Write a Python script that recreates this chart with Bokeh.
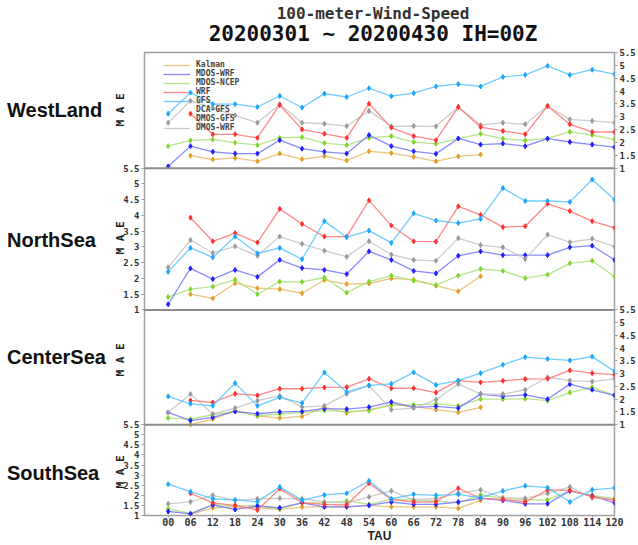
import math
from bokeh.plotting import figure
from bokeh.models import FixedTicker, Range1d, Legend, LegendItem, Span, Div, LinearAxis
from bokeh.layouts import column, row
from bokeh.embed import file_html
from bokeh.resources import INLINE

# ---------------- data ----------------
TAU = list(range(0, 121, 6))
TAU_LABELS = ["00", "06", "12", "18", "24", "30", "36", "42", "48", "54", "60",
              "66", "72", "78", "84", "90", "96", "102", "108", "114", "120"]
Y_TICKS = [1, 1.5, 2, 2.5, 3, 3.5, 4, 4.5, 5, 5.5]
SERIES = ["Kalman", "MDOS-WRF", "MDOS-NCEP", "WRF", "GFS", "DCA-GFS", "DMOS-GFS", "DMOS-WRF"]
REGIONS = ["WestLand", "NorthSea", "CenterSea", "SouthSea"]
TITLE_1 = "100-meter-Wind-Speed"
TITLE_2 = "20200301 ~ 20200430 IH=00Z"
N = None

# WestLand
westland_kalman = [N, 1.49, 1.34, 1.40, 1.27, 1.57, 1.35, 1.47, 1.30, 1.66, 1.59, 1.44, 1.27, 1.46, 1.53,
                   N, N, N, N, N, N]
westland_mdos_wrf = [1.07, 1.86, 1.64, 1.57, 1.57, 2.09, 1.76, 1.64, 1.57, 2.29, 1.86, 1.66, 1.56, 2.16, 1.92,
                     1.96, 1.86, 2.15, 2.02, 1.92, 1.82]
westland_mdos_ncep = [1.86, 2.08, 2.12, 1.99, 1.90, 2.18, 2.21, 1.98, 1.90, 2.18, 2.25, 2.02, 1.95, 2.15, 2.34,
                      2.15, 2.08, 2.16, 2.42, 2.29, 2.12]
westland_wrf = [N, 3.12, 2.32, 2.32, 2.18, 3.46, 2.51, 2.34, 2.18, 3.51, 2.58, 2.25, 2.09, 3.38, 2.60,
                2.45, 2.32, 3.42, 2.71, 2.41, 2.41]
westland_gfs = [3.12, 3.94, 3.49, 3.49, 3.38, 3.81, 3.36, 3.90, 3.77, 4.11, 3.80, 3.92, 4.18, 4.27, 4.18,
                4.55, 4.63, 4.98, 4.63, 4.83, 4.66]
westland_dmos_wrf = [2.77, 3.62, 3.35, 3.05, 2.77, 3.49, 2.77, 2.73, 2.64, 3.23, 2.63, 2.64, 2.63, 3.38, 2.68,
                     2.77, 2.71, 3.42, 2.90, 2.84, 2.77]

# NorthSea
northsea_kalman = [N, 1.50, 1.37, 1.85, 1.69, 1.66, 1.53, 1.95, 1.82, 1.84, 2.00, 1.96, 1.77, 1.59, 2.07,
                   N, N, N, N, N, N]
northsea_mdos_wrf = [1.18, 2.32, 1.98, 2.27, 2.05, 2.59, 2.33, 2.27, 2.14, 2.86, 2.59, 2.24, 2.16, 2.72, 2.86,
                     2.74, 2.74, 2.74, 2.99, 3.04, 2.59]
northsea_mdos_ncep = [1.41, 1.66, 1.74, 1.96, 1.50, 1.90, 1.89, 2.03, 1.55, 1.90, 2.09, 1.93, 1.79, 2.09, 2.30,
                      2.24, 2.01, 2.12, 2.48, 2.56, 2.06]
northsea_wrf = [N, 3.93, 3.18, 3.44, 3.14, 4.21, 3.73, 3.33, 3.33, 4.48, 3.68, 3.18, 3.17, 4.29, 4.02,
                3.63, 3.66, 4.37, 4.14, 3.82, 3.61]
northsea_gfs = [2.21, 2.97, 2.67, 3.33, 2.80, 2.97, 2.61, 3.82, 3.31, 3.52, 3.13, 4.07, 3.84, 3.76, 3.89,
                4.87, 4.46, 4.46, 4.43, 5.14, 4.50]
northsea_dmos_wrf = [2.35, 3.22, 2.81, 3.02, 2.72, 3.33, 3.10, 2.88, 2.69, 3.18, 2.76, 2.59, 2.56, 3.28, 3.06,
                     2.99, 2.62, 3.39, 3.15, 3.26, 3.01]

# CenterSea
centersea_kalman = [N, 1.00, 1.22, 1.55, 1.35, 1.26, 1.33, 1.69, 1.46, 1.59, 1.78, 1.72, 1.59, 1.48, 1.68,
                    N, N, N, N, N, N]
centersea_mdos_wrf = [1.48, 1.16, 1.29, 1.52, 1.43, 1.50, 1.52, 1.63, 1.61, 1.69, 1.89, 1.68, 1.72, 1.65, 2.20,
                      2.11, 2.17, 2.00, 2.59, 2.37, 2.15]
centersea_mdos_ncep = [1.26, 1.22, 1.39, 1.52, 1.35, 1.42, 1.48, 1.55, 1.52, 1.55, 1.78, 1.78, 1.82, 1.74, 2.00,
                       2.00, 2.02, 1.94, 2.26, 2.47, 2.15]
centersea_wrf = [N, 1.95, 1.87, 2.21, 2.15, 2.41, 2.41, 2.46, 2.47, 2.80, 2.43, 2.43, 2.26, 2.73, 2.66,
                 2.72, 2.79, 2.80, 3.13, 3.02, 2.96]
centersea_gfs = [2.11, 1.82, 1.74, 2.63, 1.74, 2.07, 1.85, 3.05, 2.28, 2.54, 2.60, 3.05, 2.56, 2.73, 3.02,
                 3.35, 3.65, 3.58, 3.52, 3.67, 3.09]
centersea_dmos_wrf = [1.48, 2.20, 1.42, 1.65, 1.94, 2.13, 1.69, 1.74, 2.21, 2.53, 1.59, 1.65, 1.98, 2.60, 2.20,
                      2.20, 2.37, 2.86, 2.73, 2.69, 2.80]

# SouthSea
southsea_kalman = [N, 1.05, 1.38, 1.43, 1.38, 1.30, 1.42, 1.43, 1.43, 1.50, 1.43, 1.43, 1.43, 1.35, 1.75,
                   N, N, N, N, N, N]
southsea_mdos_wrf = [1.20, 1.08, 1.52, 1.30, 1.47, 1.38, 1.63, 1.43, 1.43, 1.50, 1.67, 1.55, 1.55, 1.67, 1.85,
                     1.75, 1.58, 1.58, 2.22, 1.97, 1.63]
southsea_mdos_ncep = [1.33, 1.10, 1.55, 1.47, 1.50, 1.33, 1.63, 1.63, 1.72, 1.55, 1.80, 1.77, 1.72, 1.63, 2.02,
                      1.85, 1.77, 1.77, 2.22, 2.00, 1.83]
southsea_wrf = [N, 2.10, 1.63, 1.50, 1.27, 2.33, 1.63, 1.55, 1.52, 2.60, 1.80, 1.67, 1.68, 2.35, 1.85,
                1.80, 1.67, 2.27, 2.25, 1.93, 1.75]
southsea_gfs = [2.55, 2.18, 1.83, 1.77, 1.68, 2.42, 1.75, 2.02, 2.10, 2.72, 1.83, 2.05, 2.00, 2.05, 1.88,
                2.22, 2.47, 2.38, 1.67, 2.27, 2.37]
southsea_dmos_wrf = [1.58, 1.68, 2.00, 1.75, 1.83, 1.85, 1.83, 1.67, 1.63, 1.92, 2.22, 1.77, 1.85, 2.10, 2.27,
                     1.88, 1.85, 2.10, 2.42, 1.88, 1.80]

# ---------------- styles / geometry ----------------
LINE_COLORS = {"Kalman": "#e9bb6a", "MDOS-WRF": "#7676ff", "MDOS-NCEP": "#a9e07a", "WRF": "#ff7373",
               "GFS": "#55c3ff", "DCA-GFS": "#7fe0b3", "DMOS-GFS": "#a24fe3", "DMOS-WRF": "#c4c4c4"}
MARK_COLORS = {"Kalman": "#e0a028", "MDOS-WRF": "#1f1fff", "MDOS-NCEP": "#82d62a", "WRF": "#ff3030",
               "GFS": "#1aa6ff", "DMOS-WRF": "#9a9a9a"}
MONO = "DejaVu Sans Mono"
SANS = "Liberation Sans"

PANEL_DATA = [
    {"Kalman": westland_kalman, "MDOS-WRF": westland_mdos_wrf, "MDOS-NCEP": westland_mdos_ncep,
     "WRF": westland_wrf, "GFS": westland_gfs, "DMOS-WRF": westland_dmos_wrf},
    {"Kalman": northsea_kalman, "MDOS-WRF": northsea_mdos_wrf, "MDOS-NCEP": northsea_mdos_ncep,
     "WRF": northsea_wrf, "GFS": northsea_gfs, "DMOS-WRF": northsea_dmos_wrf},
    {"Kalman": centersea_kalman, "MDOS-WRF": centersea_mdos_wrf, "MDOS-NCEP": centersea_mdos_ncep,
     "WRF": centersea_wrf, "GFS": centersea_gfs, "DMOS-WRF": centersea_dmos_wrf},
    {"Kalman": southsea_kalman, "MDOS-WRF": southsea_mdos_wrf, "MDOS-NCEP": southsea_mdos_ncep,
     "WRF": southsea_wrf, "GFS": southsea_gfs, "DMOS-WRF": southsea_dmos_wrf},
]
DRAW_ORDER = ["Kalman", "MDOS-NCEP", "MDOS-WRF", "DMOS-WRF", "WRF", "GFS"]

PAGE_W, PAGE_H = 638, 545
TOP_DIV_H = 44
LEFT_DIV_W = 120
FRAME_W = 477
FRAME_H = 464
MB_LEFT, MB_RIGHT, MB_TOP, MB_BOTTOM = 21, 20, 8, 29
# panel extents inside the frame, in px from the frame bottom: (bottom, height)
PANEL_BOX = [(348, 116), (206, 142), (91, 115), (0, 91)]
AXIS_SIDE = ["right", "left", "right", "left"]
X_RANGE = (-6.36, 120)
Y_LO, Y_HI = 1.0, 5.5


def clean(vals):
    return [float("nan") if v is None else v for v in vals]


def panel_range(k):
    bot, h = PANEL_BOX[k]
    per = (Y_HI - Y_LO) / h
    start = Y_LO - bot * per
    return Range1d(start, start + FRAME_H * per)


def tick_pos(k, t):
    bot, h = PANEL_BOX[k]
    return bot + (t - Y_LO) / (Y_HI - Y_LO) * h


p = figure(width=MB_LEFT + FRAME_W + MB_RIGHT, height=MB_TOP + FRAME_H + MB_BOTTOM,
           x_range=Range1d(*X_RANGE), y_range=Range1d(0, FRAME_H),
           output_backend="svg", toolbar_location=None, title=None,
           y_axis_location=None, x_axis_location="below",
           min_border_left=MB_LEFT, min_border_right=MB_RIGHT,
           min_border_top=MB_TOP, min_border_bottom=MB_BOTTOM, margin=0)
p.grid.visible = False
p.outline_line_color = "#a0a0a0"
p.outline_line_width = 1.5
p.border_fill_alpha = 0
for k in range(4):
    p.extra_y_ranges[f"p{k}"] = panel_range(k)

# y axes: one on each side, carrying the ticks of the panels on that side
for side in ["left", "right"]:
    ticks, labels = [], {}
    for k in range(4):
        if AXIS_SIDE[k] != side:
            continue
        for t in Y_TICKS:
            pos = tick_pos(k, t)
            ticks.append(pos)
            labels[pos] = f"{t:g}"
    ax = LinearAxis(ticker=FixedTicker(ticks=ticks), major_label_overrides=labels)
    ax.major_label_text_font = MONO
    ax.major_label_text_font_style = "bold"
    ax.major_label_text_font_size = "9px"
    ax.major_label_text_color = "#333333"
    ax.major_tick_out = 3
    ax.major_tick_in = 0
    ax.minor_tick_out = 0
    ax.minor_tick_in = 0
    ax.major_label_standoff = 2
    ax.axis_line_color = None
    ax.major_tick_line_color = "#a0a0a0"
    p.add_layout(ax, side)

xa = p.xaxis[0]
xa.ticker = FixedTicker(ticks=TAU)
xa.major_label_overrides = dict(zip(TAU, TAU_LABELS))
xa.major_label_text_font = MONO
xa.major_label_text_font_style = "bold"
xa.major_label_text_font_size = "10px"
xa.major_label_text_color = "#333333"
xa.major_tick_out = 2
xa.major_tick_in = 0
xa.minor_tick_out = 0
xa.minor_tick_in = 0
xa.major_label_standoff = 0
xa.axis_line_color = None
xa.major_tick_line_color = "#a0a0a0"
xa.axis_label = "TAU"
xa.axis_label_text_font = SANS
xa.axis_label_text_font_style = "bold"
xa.axis_label_text_font_size = "12px"
xa.axis_label_text_color = "#222222"
xa.axis_label_standoff = 0

# panel separators
for k in range(3):
    p.add_layout(Span(location=PANEL_BOX[k][0], dimension="width", line_color="#8c8c8c", line_width=2))

legend_renderers = {}
for k in range(4):
    for name in DRAW_ORDER:
        ys = clean(PANEL_DATA[k][name])
        r = p.line(TAU, ys, line_color=LINE_COLORS[name], line_width=1.3, line_alpha=0.85,
                   y_range_name=f"p{k}")
        p.scatter(TAU, ys, marker="diamond", size=5, color=MARK_COLORS[name], y_range_name=f"p{k}")
        if k == 0:
            legend_renderers[name] = r
for name in ["DCA-GFS", "DMOS-GFS"]:
    legend_renderers[name] = p.line([], [], line_color=LINE_COLORS[name], line_width=1.3,
                                    y_range_name="p0")

items = [LegendItem(label=s, renderers=[legend_renderers[s]]) for s in SERIES]
leg = Legend(items=items, background_fill_alpha=0, border_line_alpha=0,
             label_text_font=MONO, label_text_font_style="bold", label_text_font_size="8px",
             label_text_color="#444444", label_height=8, glyph_height=8, glyph_width=27,
             label_standoff=6, padding=0, margin=0, spacing=0)
# legend anchored by its bottom-left corner (frame px): centred on the reference block
leg.location = (19, 383)
p.add_layout(leg)

# ---------------- HTML texts ----------------
top_html = (
    f'<div style="position:relative;width:{PAGE_W}px;height:{TOP_DIV_H}px;">'
    f'<div style="position:absolute;left:73px;top:6px;width:600px;text-align:center;'
    f'font-family:\'{MONO}\';font-weight:bold;font-size:16px;line-height:16px;color:#333;">{TITLE_1}</div>'
    f'<div style="position:absolute;left:73px;top:24px;width:600px;text-align:center;'
    f'font-family:\'{MONO}\';font-weight:bold;font-size:21px;line-height:21px;color:#111;'
    f'white-space:pre;">{TITLE_2}</div></div>'
)
top_div = Div(text=top_html, width=PAGE_W, height=TOP_DIV_H, margin=0, styles={"overflow": "visible"})

left_parts = []
region_centres = [110, 240, 357, 473]   # page y of the region names
mae_centres = [110, 238, 360, 472]
for k in range(4):
    cy = region_centres[k] - TOP_DIV_H
    left_parts.append(
        f'<div style="position:absolute;left:7px;top:{cy - 12}px;height:24px;line-height:24px;'
        f'font-family:\'{SANS}\';font-weight:bold;font-size:20px;color:#111;white-space:nowrap;">'
        f'{REGIONS[k]}</div>')
    my = mae_centres[k] - TOP_DIV_H
    left_parts.append(
        f'<div style="position:absolute;left:{121 - 25}px;top:{my - 6}px;width:50px;height:12px;'
        f'line-height:12px;text-align:center;transform:rotate(-90deg);'
        f'font-family:\'{MONO}\';font-weight:bold;font-size:11px;color:#222;white-space:pre;">M A E</div>')
left_html = (f'<div style="position:relative;width:{LEFT_DIV_W}px;height:{PAGE_H - TOP_DIV_H}px;">'
             + "".join(left_parts) + '</div>')
left_div = Div(text=left_html, width=LEFT_DIV_W, height=PAGE_H - TOP_DIV_H, margin=0,
               styles={"overflow": "visible"})

layout = column(top_div, row(left_div, p, spacing=0, margin=0), spacing=0, margin=0)
open("out.html", "w").write(file_html(layout, INLINE))
